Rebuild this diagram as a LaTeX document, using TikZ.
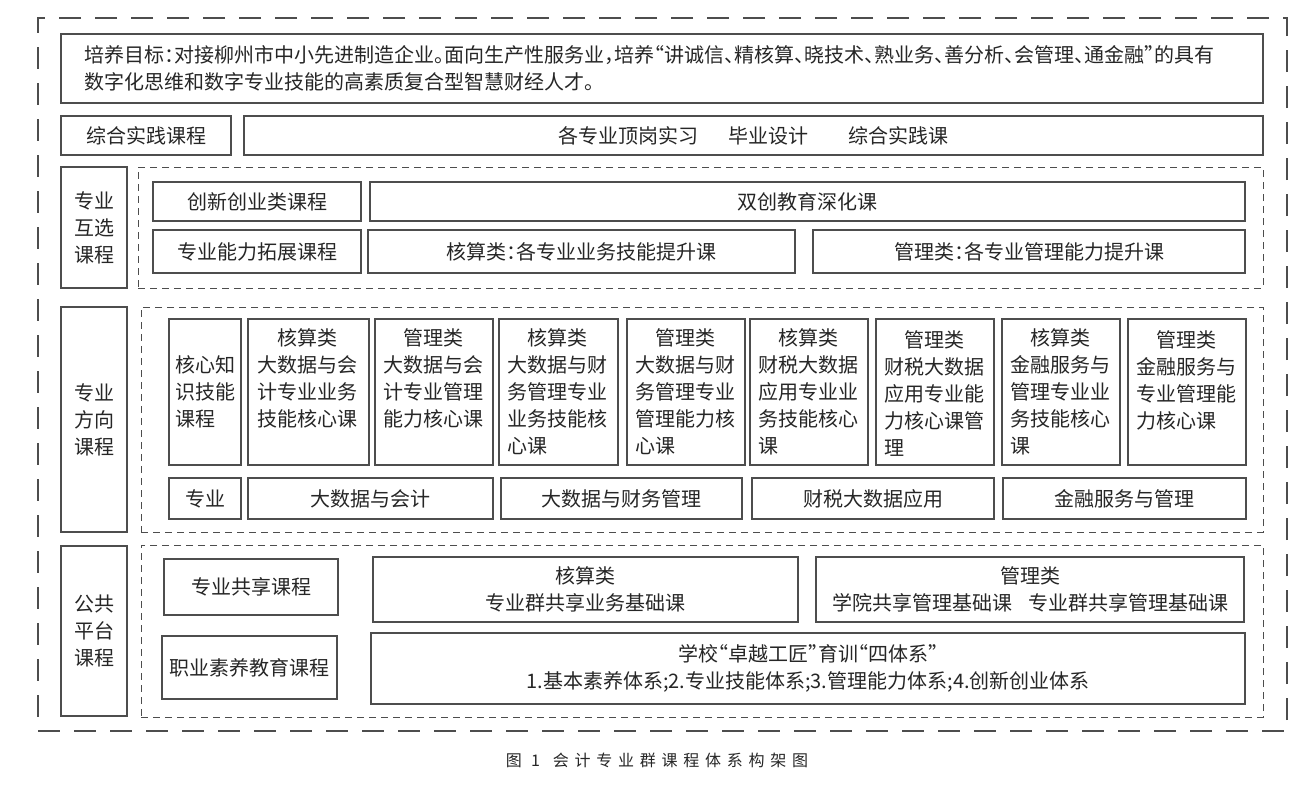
\documentclass[tikz,border=0pt]{standalone}
\usepackage{fontspec}
\setmainfont{Noto Sans CJK SC}[RawFeature={+halt}]
\usepackage{tikz}
\usetikzlibrary{positioning,fit}
\definecolor{framegray}{HTML}{4D4D4D}
\definecolor{inkgray}{HTML}{262626}

\begin{document}
\begin{tikzpicture}[
    x=0.5pt, y=-0.5pt,
    font=\fontsize{10pt}{13.5pt}\selectfont, text=inkgray,
    cell/.style={draw=framegray, line width=0.6pt, inner sep=0pt},
    boxtext/.style={label={[align=center, inner sep=0pt]center:#1}},
    cellgroup/.style={draw=framegray, line width=0.5pt, dash pattern=on 3.5pt off 2.5pt, inner sep=0pt},
    outerframe/.style={draw=framegray, line width=0.6pt, dash pattern=on 11pt off 7pt, inner sep=0pt},
    coretext/.style={inner sep=0pt, text width=51pt, align=left},
]
\useasboundingbox (0,0) rectangle (1300,800);

% outer frame
\node[outerframe, fit={(38,18) (1287,731)}] (all) {};

% goal
\node[cell, fit={(61,34) (1263,103)}] (goal) {};
\node[inner sep=0pt, text width=578pt, align=left] (goalt) at (goal)
    {培养目标：对接柳州市中小先进制造企业。面向生产性服务业，培养“讲诚信、精核算、晓技术、熟业务、善分析、会管理、通金融”的具有\\
     数字化思维和数字专业技能的高素质复合型智慧财经人才。};

% comprehensive practice
\node[cell, fit={(61,116) (231,155)}, boxtext={综合实践课程}] (zh) {};
\node[cell, fit={(244,116) (1263,155)},
      boxtext={各专业顶岗实习\hspace{1.5em}毕业设计\hspace{2em}综合实践课}] (zhc) {};

% mutual elective
\node[cell, fit={(61,167) (127,288)}, boxtext={专业\\互选\\课程}] (hx) {};
\node[cellgroup, fit={(138,167) (1263,288)}] (hxg) {};
\node[cell, fit={(153,182) (361,221)}, boxtext={创新创业类课程}] (cx1) {};
\node[cell, fit={(370,182) (1245,221)}, boxtext={双创教育深化课}] (cx2) {};
\node[cell, fit={(153,230) (361,273)}, boxtext={专业能力拓展课程}] (nl1) {};
\node[cell, fit={(368,230) (795,273)}, boxtext={核算类：各专业业务技能提升课}] (nl2) {};
\node[cell, fit={(813,230) (1245,273)}, boxtext={管理类：各专业管理能力提升课}] (nl3) {};

% direction courses
\node[cell, fit={(61,307) (127,532)}, boxtext={专业\\方向\\课程}] (fx) {};
\node[cellgroup, fit={(141,307) (1263,532)}] (fxg) {};
\node[cell, fit={(169,319) (241,465)}] (hk) {};
\node[inner sep=0pt, align=left] (hkt) at (hk) {核心知\\识技能\\课程};
\node[cell, fit={(248,319) (369,465)}] (k1) {};
\node[cell, fit={(375,319) (493,465)}] (k2) {};
\node[cell, fit={(499,319) (618,465)}] (k3) {};
\node[cell, fit={(627,319) (745,465)}] (k4) {};
\node[cell, fit={(750,319) (868,465)}] (k5) {};
\node[cell, fit={(876,319) (994,465)}] (k6) {};
\node[cell, fit={(1002,319) (1120,465)}] (k7) {};
\node[cell, fit={(1128,319) (1246,465)}] (k8) {};
\node[coretext, below=5pt of k1.north] (k1t)
    {\makebox[50pt]{核算类}\\大数据与会\\计专业业务\\技能核心课};
\node[coretext, below=5pt of k2.north] (k2t)
    {\makebox[50pt]{管理类}\\大数据与会\\计专业管理\\能力核心课};
\node[coretext, below=5pt of k3.north] (k3t)
    {\makebox[50pt]{核算类}\\大数据与财\\务管理专业\\业务技能核\\心课};
\node[coretext, below=5pt of k4.north] (k4t)
    {\makebox[50pt]{管理类}\\大数据与财\\务管理专业\\管理能力核\\心课};
\node[coretext, below=5pt of k5.north] (k5t)
    {\makebox[50pt]{核算类}\\财税大数据\\应用专业业\\务技能核心\\课};
\node[coretext, below=6pt of k6.north] (k6t)
    {\makebox[50pt]{管理类}\\财税大数据\\应用专业能\\力核心课管\\理};
\node[coretext, below=5pt of k7.north] (k7t)
    {\makebox[50pt]{核算类}\\金融服务与\\管理专业业\\务技能核心\\课};
\node[coretext, below=6pt of k8.north] (k8t)
    {\makebox[50pt]{管理类}\\金融服务与\\专业管理能\\力核心课};
\node[cell, fit={(169,478) (241,519)}, boxtext={专业}] (zy) {};
\node[cell, fit={(248,478) (493,519)}, boxtext={大数据与会计}] (m1) {};
\node[cell, fit={(501,478) (742,519)}, boxtext={大数据与财务管理}] (m2) {};
\node[cell, fit={(752,478) (994,519)}, boxtext={财税大数据应用}] (m3) {};
\node[cell, fit={(1003,478) (1246,519)}, boxtext={金融服务与管理}] (m4) {};

% public platform
\node[cell, fit={(61,546) (127,716)}, boxtext={公共\\平台\\课程}] (gg) {};
\node[cellgroup, fit={(141,545) (1263,717)}] (ggg) {};
\node[cell, fit={(164,559) (338,615)}, boxtext={专业共享课程}] (gx1) {};
\node[cell, fit={(373,557) (798,622)}, boxtext={核算类\\专业群共享业务基础课}] (gx2) {};
\node[cell, fit={(816,557) (1244,622)},
      boxtext={管理类\\学院共享管理基础课\hspace{0.8em}专业群共享管理基础课}] (gx3) {};
\node[cell, fit={(162,636) (337,699)}, boxtext={职业素养教育课程}] (zs1) {};
\node[cell, fit={(371,633) (1245,704)},
      boxtext={学校“卓越工匠”育训“四体系”\\1.基本素养体系;2.专业技能体系;3.管理能力体系;4.创新创业体系}] (zs2) {};

% caption
\node[font=\fontsize{8pt}{10pt}\selectfont\addfontfeatures{LetterSpace=36}] (caption) at (657,760)
    {图 1\hspace{0.8em}会计专业群课程体系构架图};
\end{tikzpicture}
\end{document}
